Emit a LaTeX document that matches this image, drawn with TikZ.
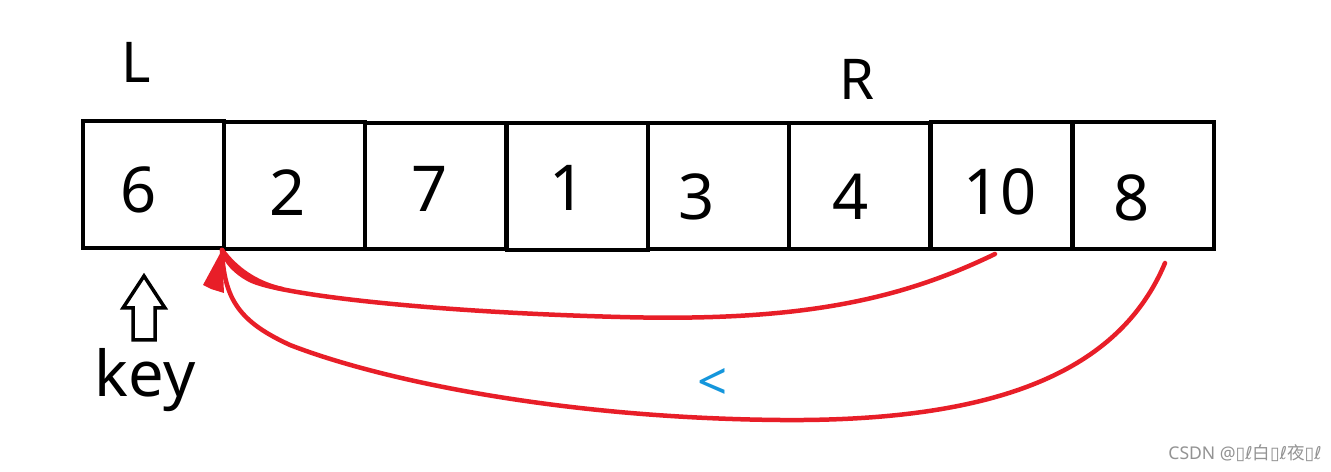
\documentclass[tikz,border=0pt]{standalone}
\usepackage{fontspec}
\usetikzlibrary{calc}
\setmainfont{Noto Sans}
\newfontfamily\cjk{Noto Sans CJK SC}
\newfontfamily\djv{DejaVu Sans}
\definecolor{penred}{RGB}{232,30,40}
\definecolor{ltblue}{RGB}{20,150,220}
\begin{document}
\begin{tikzpicture}[x=0.02cm,y=-0.02cm,
  cell/.style={draw=black,line width=0.08cm,minimum width=2.82cm,minimum height=2.54cm,inner sep=0pt,outer sep=0pt},
  num/.style={font=\fontsize{36}{40}\selectfont,inner sep=0pt},
  lbl/.style={font=\fontsize{32}{36}\selectfont,inner sep=0pt},
  redpen/.style={draw=penred,line width=0.09cm,line cap=round,line join=round},
  hollow/.style={draw=black,line width=0.07cm,fill=white,line join=miter}]
\useasboundingbox[fill=white] (0,0) rectangle (1331,472);
% cells
\node[cell] (b1) at (153.5,184.5) {};
\node[cell] (b2) at (294.5,185.5) {};
\node[cell] (b3) at (435.5,186) {};
\node[cell] (b4) at (577.5,186.5) {};
\node[cell] (b5) at (718.5,186) {};
\node[cell] (b6) at (859.5,186) {};
\node[cell] (b7) at (1001.5,185.5) {};
\node[cell] (b8) at (1143,185.5) {};
% numbers
\node[num] (n1) at (139,190) {6};
\node[num] (n2) at (288,193) {2};
\node[num] (n3) at (430,189) {7};
\node[num] (n4) at (568,188) {1};
\node[num] (n5) at (697,197) {3};
\node[num] (n6) at (851,197) {4};
\node[num] (n7) at (1000,192) {10};
\node[num] (n8) at (1132,198) {8};
% labels
\node[lbl] (L) at (136,62) {L};
\node[lbl] (R) at (857,79) {R};
\node[num,anchor=base] (key) at (145,397) {key};
% hollow up arrow
\draw[hollow] (144,276) -- (165,308) -- (155,308) -- (155,340) -- (133,340) -- (133,308) -- (123,308) -- cycle;
% red arrows
\coordinate (tip) at ($(b1.south east)+(-2,2)$);
\coordinate (s1) at (995,254);
\coordinate (s2) at (1165,263);
\draw[redpen] (s1) .. controls (900,300) and (800,322) .. (620,317)
  .. controls (430,312) and (280,295) .. (250,280)
  .. controls (235,272) and (226,262) .. (tip);
\draw[redpen] (tip) .. controls (235,268) and (255,283) .. (282,289);
\draw[redpen] (s2) .. controls (1120,370) and (1000,422) .. (780,420)
  .. controls (560,418) and (380,380) .. (290,345)
  .. controls (240,322) and (224,300) .. (tip);
\fill[penred] (tip) -- (203,285) -- (211,289) -- (224,293) -- cycle;
% blue less-than
\node[font=\fontsize{30}{34}\selectfont,text=ltblue,inner sep=0pt] (lt) at (713,384) {<};
% watermark
\node[font=\fontsize{10}{12}\selectfont,text=gray!85,inner sep=0pt] (wm) at (1245,453) {CSDN @{\djv ▯ℓ}{\cjk 白}{\djv ▯ℓ}{\cjk 夜}{\djv ▯ℓ}};
\end{tikzpicture}
\end{document}
